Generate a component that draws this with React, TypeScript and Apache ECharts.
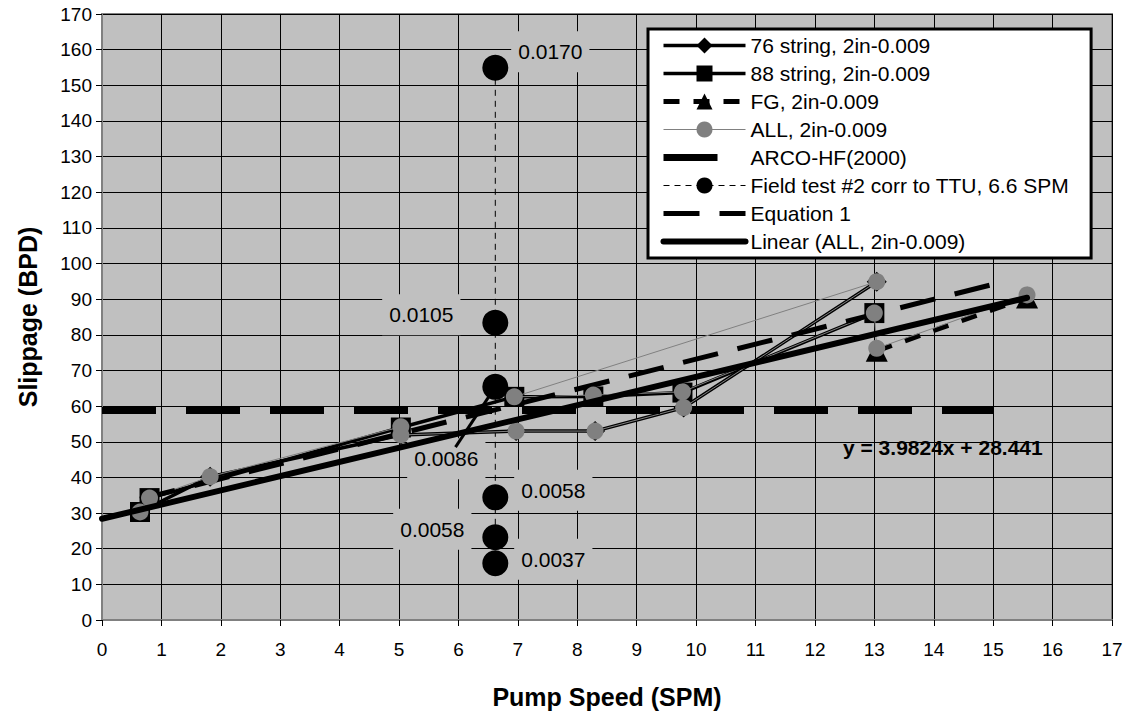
import React, { useEffect, useRef } from "react";
import * as echarts from "echarts";

// ---- data ----
const s76Name = "76 string, 2in-0.009";
const s76X = [0.64, 1.82, 5.03, 6.97, 8.3, 9.79, 13.04];
const s76Y = [30.3, 40.2, 51.9, 53.0, 53.0, 59.6, 94.9];

const s88Name = "88 string, 2in-0.009";
const s88X = [0.64, 0.8, 5.03, 6.94, 8.27, 9.77, 13.0];
const s88Y = [30.3, 34.2, 54.0, 62.6, 62.7, 63.8, 86.1];
const s88bX = [5.95, 6.62];
const s88bY = [48.5, 65.4];

const fgName = "FG, 2in-0.009";
const fgX = [13.04, 15.57];
const fgY = [75.5, 90.5];

const allName = "ALL, 2in-0.009";
const allX = [0.64, 0.8, 1.82, 5.03, 5.03, 6.97, 8.3, 9.79, 13.04, 6.94, 8.27, 9.77, 13.0, 13.04, 15.57];
const allY = [30.3, 34.2, 40.2, 54.2, 51.9, 53.0, 53.0, 59.6, 94.9, 62.6, 63.1, 64.0, 86.1, 76.2, 91.2];

const arcoName = "ARCO-HF(2000)";
const arcoX = [0, 15];
const arcoY = [58.8, 58.8];

const fieldName = "Field test #2 corr to TTU, 6.6 SPM";
const fieldX = [6.62, 6.62, 6.62, 6.62, 6.62, 6.62];
const fieldY = [154.9, 83.4, 65.4, 34.4, 23.2, 15.9];
const fieldLabels = ["0.0170", "0.0105", "0.0086", "0.0058", "0.0058", "0.0037"];

const eqName = "Equation 1";
const eqX = [0.64, 15.08];
const eqY = [33.9, 94.5];

const linName = "Linear (ALL, 2in-0.009)";
const linX = [0, 15.57];
const linY = [28.4, 90.4];
const trendText = "y = 3.9824x + 28.441";

const xTitle = "Pump Speed (SPM)";
const yTitle = "Slippage (BPD)";

// label offsets (pixels, from point centre to label centre) - layout only
const fieldLabelOffsets = [
  [55, -16],
  [-74, -8],
  [-49, 72],
  [58, -7],
  [-63, -8],
  [58, -4],
];

const FONT = "'Liberation Sans', Arial, sans-serif";

const pairs = (xs: number[], ys: number[]) => xs.map((x, i) => [x, ys[i]]);

export default function App() {
  const ref = useRef<HTMLDivElement>(null);
  useEffect(() => {
    document.body.style.margin = "0";
    const chart = echarts.init(ref.current!, undefined, { renderer: "svg" });
    const fieldR = 13;
    const option: any = {
      animation: false,
      textStyle: { fontFamily: FONT, color: "#000" },
      grid: {
        left: 102,
        right: 25,
        top: 14,
        bottom: 91,
        show: true,
        containLabel: false,
        outerBoundsMode: "none",
        backgroundColor: "#C0C0C0",
        borderColor: "#808080",
        borderWidth: 2,
      },
      xAxis: {
        type: "value",
        min: 0,
        max: 17,
        interval: 1,
        name: xTitle,
        nameLocation: "middle",
        nameGap: 64,
        nameTextStyle: { fontFamily: FONT, fontSize: 25, fontWeight: "bold", color: "#000" },
        axisLine: { show: true, lineStyle: { color: "#808080", width: 2 } },
        axisTick: { show: true, length: 6, lineStyle: { color: "#000", width: 1 } },
        axisLabel: { fontFamily: FONT, fontSize: 19, color: "#000", margin: 20 },
        splitLine: { show: true, lineStyle: { color: "#000", width: 1 } },
      },
      yAxis: {
        type: "value",
        min: 0,
        max: 170,
        interval: 10,
        name: yTitle,
        nameLocation: "middle",
        nameGap: 62,
        nameTextStyle: { fontFamily: FONT, fontSize: 25, fontWeight: "bold", color: "#000" },
        axisLine: { show: true, lineStyle: { color: "#808080", width: 2 } },
        axisTick: { show: true, length: 6, lineStyle: { color: "#000", width: 1 } },
        axisLabel: { fontFamily: FONT, fontSize: 19, color: "#000", margin: 10 },
        splitLine: { show: true, lineStyle: { color: "#000", width: 1 } },
      },
      legend: {
        orient: "vertical",
        left: 648,
        top: 29,
        padding: [6, 22, 6, 12],
        itemWidth: 82,
        itemHeight: 20,
        itemGap: 7,
        backgroundColor: "#fff",
        borderColor: "#000",
        borderWidth: 3,
        selectedMode: false,
        lineStyle: { width: "inherit", type: "inherit", color: "inherit" },
        textStyle: { fontFamily: FONT, fontSize: 21, color: "#000", lineHeight: 20 },
        data: [s76Name, s88Name, fgName, allName, arcoName, fieldName, eqName, linName],
      },
      graphic: [
        {
          type: "text",
          left: 843,
          top: 437,
          z: 100,
          style: { text: trendText, font: `bold 21px ${FONT}`, fill: "#000" },
        },
      ],
      series: [
        {
          name: fieldName,
          type: "line",
          data: fieldX.map((x, i) => ({
            value: [x, fieldY[i]],
            label: {
              show: true,
              formatter: fieldLabels[i],
              position: [fieldLabelOffsets[i][0] + fieldR, fieldLabelOffsets[i][1] + fieldR],
              align: "center",
              verticalAlign: "middle",
            },
          })),
          symbol: "circle",
          symbolSize: 26,
          itemStyle: { color: "#000" },
          lineStyle: { color: "#000", width: 1, type: [6, 5] },
          label: {
            fontFamily: FONT,
            fontSize: 21,
            color: "#000",
            backgroundColor: "#C0C0C0",
            padding: [10, 7],
          },
          z: 2,
        },
        {
          name: s76Name,
          type: "line",
          data: pairs(s76X, s76Y),
          symbol: "diamond",
          symbolSize: 20,
          itemStyle: { color: "#000" },
          lineStyle: { color: "#000", width: 3.5 },
          z: 3,
        },
        {
          name: s88Name,
          type: "line",
          data: pairs(s88X, s88Y),
          symbol: "rect",
          symbolSize: 20,
          itemStyle: { color: "#000" },
          lineStyle: { color: "#000", width: 3.5 },
          z: 3,
        },
        {
          name: s88Name,
          type: "line",
          data: pairs(s88bX, s88bY),
          symbol: "none",
          itemStyle: { color: "#000" },
          lineStyle: { color: "#000", width: 3 },
          z: 3,
        },
        {
          name: fgName,
          type: "line",
          data: pairs(fgX, fgY),
          symbol: "triangle",
          symbolSize: 22,
          itemStyle: { color: "#000" },
          lineStyle: { color: "#000", width: 5, type: [16, 14] },
          z: 3,
        },
        {
          name: allName,
          type: "line",
          data: pairs(allX, allY),
          symbol: "circle",
          symbolSize: 17,
          itemStyle: { color: "#808080" },
          lineStyle: { color: "#808080", width: 1 },
          z: 4,
        },
        {
          name: arcoName,
          type: "line",
          data: pairs(arcoX, arcoY),
          symbol: "none",
          itemStyle: { color: "rgba(0,0,0,0)" },
          lineStyle: { color: "#000", width: 7, type: [54, 30], cap: "butt" },
          z: 4,
        },
        {
          name: eqName,
          type: "line",
          data: pairs(eqX, eqY),
          symbol: "none",
          itemStyle: { color: "rgba(0,0,0,0)" },
          lineStyle: { color: "#000", width: 5, type: [36, 20], cap: "butt" },
          z: 4,
        },
        {
          name: linName,
          type: "line",
          data: pairs(linX, linY),
          symbol: "none",
          itemStyle: { color: "rgba(0,0,0,0)" },
          lineStyle: { color: "#000", width: 6, cap: "round" },
          z: 5,
        },
      ],
    };
    chart.setOption(option);
    return () => chart.dispose();
  }, []);
  return <div ref={ref} style={{ width: 1137, height: 711 }} />;
}
